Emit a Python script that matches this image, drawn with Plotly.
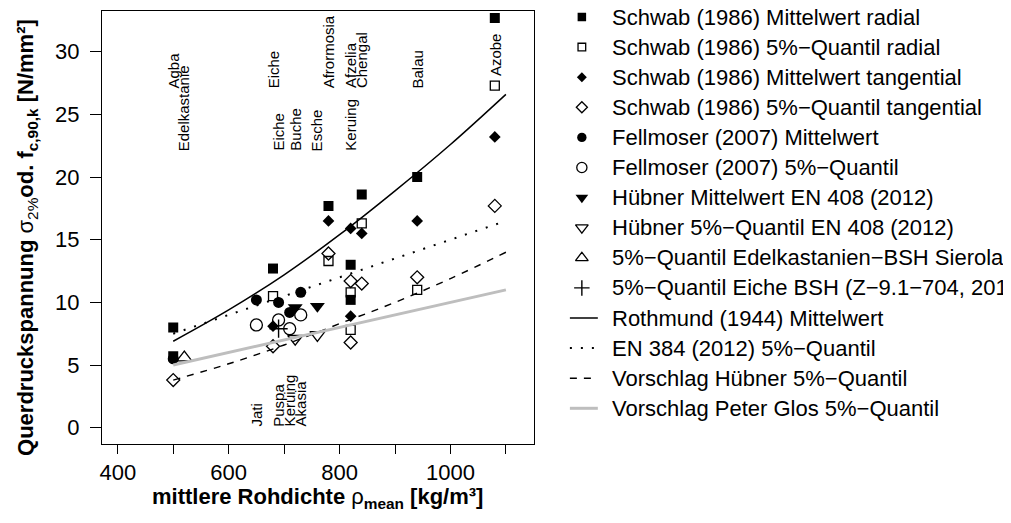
import plotly.graph_objects as go

# Schwab (1986) - radial / tangential, mean and 5% quantile
schwab_mw_rad_x = [500, 500, 680, 780, 820, 820, 840, 940, 1080]
schwab_mw_rad_y = [8.0, 5.7, 12.7, 17.7, 13.0, 10.2, 18.6, 20.0, 32.7]
schwab_q5_rad_x = [680, 780, 820, 820, 840, 940, 1080]
schwab_q5_rad_y = [10.5, 13.3, 10.8, 7.8, 16.3, 11.0, 27.3]
schwab_mw_tan_x = [680, 780, 820, 840, 820, 940, 1080]
schwab_mw_tan_y = [8.1, 16.5, 15.9, 15.5, 8.9, 16.5, 23.2]
schwab_q5_tan_x = [500, 680, 780, 820, 840, 820, 940, 1080]
schwab_q5_tan_y = [3.8, 6.5, 13.9, 11.7, 11.5, 6.8, 12.0, 17.7]

# Fellmoser (2007)
fellmoser_mw_x = [500, 650, 690, 710, 730]
fellmoser_mw_y = [5.5, 10.2, 10.0, 9.2, 10.8]
fellmoser_q5_x = [650, 690, 710, 730]
fellmoser_q5_y = [8.2, 8.6, 7.9, 9.0]

# Huebner EN 408 (2012)
huebner_mw_x = [720, 760]
huebner_mw_y = [9.6, 9.7]
huebner_q5_x = [720, 760]
huebner_q5_y = [7.1, 7.4]

# single values
edelkastanie_x = [520]
edelkastanie_y = [5.6]
eiche_bsh_x = [690]
eiche_bsh_y = [7.9]

# curves
rothmund_x = [500, 600, 700, 800, 900, 1000, 1100]
rothmund_y = [6.9, 9.4, 12.2, 15.4, 18.9, 22.6, 26.6]
en384_x = [500, 1100]
en384_y = [7.5, 16.5]
huebner_line_x = [500, 600, 700, 800, 900, 1000, 1100]
huebner_line_y = [3.8, 5.1, 6.6, 8.3, 10.0, 11.9, 14.0]
glos_x = [500, 1100]
glos_y = [5.0, 11.0]

# species names written into the plot (name, x, y)
names_top = ["Agba", "Eiche", "Afrormosia", "Afzelia", "Chengal", "Balau", "Azobe"]
names_top_x = [500, 680, 780, 820, 840, 940, 1080]
names_top_y = [27, 27, 27, 27, 27, 27, 28]
names_mid = ["Edelkastanie", "Eiche", "Buche", "Esche", "Keruing"]
names_mid_x = [520, 690, 720, 760, 820]
names_mid_y = [22, 22, 22, 22, 22]
names_low = ["Jati", "Puspa", "Keruing", "Akasia"]
names_low_x = [650, 690, 710, 730]
names_low_y = [0, 0, 0, 0]

y_ticks = [0, 5, 10, 15, 20, 25, 30]

# the page puts the plot 8 px from the top-left corner
OFF = 8
W, H = 1011 - OFF, 523 - OFF
BOX_L, BOX_R, BOX_T, BOX_B = 100 - OFF, 533 - OFF, 11 - OFF, 444 - OFF
FONT = "Liberation Sans, Arial, Helvetica, sans-serif"

# point styles (also used for the legend)
points = [
    ("Schwab (1986) Mittelwert radial", schwab_mw_rad_x, schwab_mw_rad_y,
     dict(symbol="square", size=10, color="black")),
    ("Schwab (1986) 5%−Quantil radial", schwab_q5_rad_x, schwab_q5_rad_y,
     dict(symbol="square-open", size=9, color="black", line=dict(width=1.3))),
    ("Schwab (1986) Mittelwert tangential", schwab_mw_tan_x, schwab_mw_tan_y,
     dict(symbol="diamond", size=9, color="black")),
    ("Schwab (1986) 5%−Quantil tangential", schwab_q5_tan_x, schwab_q5_tan_y,
     dict(symbol="diamond-open", size=10, color="black", line=dict(width=1.3))),
    ("Fellmoser (2007) Mittelwert", fellmoser_mw_x, fellmoser_mw_y,
     dict(symbol="circle", size=11, color="black")),
    ("Fellmoser (2007) 5%−Quantil", fellmoser_q5_x, fellmoser_q5_y,
     dict(symbol="circle-open", size=12, color="black", line=dict(width=1.3))),
    ("Hübner Mittelwert EN 408 (2012)", huebner_mw_x, huebner_mw_y,
     dict(symbol="triangle-down", size=13, color="black")),
    ("Hübner 5%−Quantil EN 408 (2012)", huebner_q5_x, huebner_q5_y,
     dict(symbol="triangle-down-open", size=13, color="black", line=dict(width=1.3))),
    ("5%−Quantil Edelkastanien−BSH Sierola", edelkastanie_x, edelkastanie_y,
     dict(symbol="triangle-up-open", size=13, color="black", line=dict(width=1.3))),
    ("5%−Quantil Eiche BSH (Z−9.1−704, 201", eiche_bsh_x, eiche_bsh_y,
     dict(symbol="cross-thin-open", size=13, color="black", line=dict(width=1.4))),
]

lines = [
    ("Rothmund (1944) Mittelwert", rothmund_x, rothmund_y,
     dict(color="black", width=1.5)),
    ("EN 384 (2012) 5%−Quantil", en384_x, en384_y,
     dict(color="black", width=2, dash="2px,9px")),
    ("Vorschlag Hübner 5%−Quantil", huebner_line_x, huebner_line_y,
     dict(color="black", width=1.4, dash="7px,7px")),
    ("Vorschlag Peter Glos 5%−Quantil", glos_x, glos_y,
     dict(color="#bebebe", width=3)),
]

fig = go.Figure()

for name, xs, ys, mk in points:
    fig.add_trace(go.Scatter(x=xs, y=ys, mode="markers", name=name,
                             marker=mk, showlegend=False))

for name, xs, ys, ln in lines:
    fig.add_trace(go.Scatter(x=xs, y=ys, mode="lines", name=name,
                             line=dict(shape="spline", **ln), showlegend=False))

annotations = []

# rotated species labels
for names, xs, ys in [(names_top, names_top_x, names_top_y),
                      (names_mid, names_mid_x, names_mid_y),
                      (names_low, names_low_x, names_low_y)]:
    for n, xv, yv in zip(names, xs, ys):
        annotations.append(dict(x=xv, y=yv, xref="x", yref="y", text=n,
                                textangle=-90, xanchor="center", yanchor="bottom",
                                showarrow=False, borderpad=0,
                                font=dict(size=15, color="black", family=FONT)))

# hand-made legend on a pixel-scaled helper axis
LEG_SYM_X = 581 - OFF
LEG_TXT_X = 609 - OFF
LEG_Y0 = 17 - OFF
LEG_DY = 30.1
entries = [(n, "m", s) for n, _, _, s in points] + [(n, "l", s) for n, _, _, s in lines]
for i, (name, kind, style) in enumerate(entries):
    yy = LEG_Y0 + i * LEG_DY
    if kind == "m":
        mk = dict(style)
        mk["size"] = style["size"] * 0.85
        fig.add_trace(go.Scatter(x=[LEG_SYM_X], y=[yy], mode="markers", marker=mk,
                                 xaxis="x2", yaxis="y2", showlegend=False,
                                 hoverinfo="skip"))
    else:
        fig.add_trace(go.Scatter(x=[LEG_SYM_X - 12, LEG_SYM_X + 16], y=[yy, yy],
                                 mode="lines", line=style,
                                 xaxis="x2", yaxis="y2", showlegend=False,
                                 hoverinfo="skip"))
    annotations.append(dict(x=LEG_TXT_X, y=yy, xref="x2", yref="y2", text=name,
                            xanchor="left", yanchor="middle", showarrow=False,
                            font=dict(size=22, color="black", family=FONT)))

# axis titles
annotations.append(dict(
    x=(BOX_L + BOX_R) / 2, y=498 - OFF, xref="x2", yref="y2", showarrow=False,
    text="<b>mittlere Rohdichte </b>ρ<b><sub>mean</sub> [kg/m³]</b>",
    font=dict(size=22, color="black", family=FONT)))
annotations.append(dict(
    x=25 - OFF, y=237 - OFF, xref="x2", yref="y2", showarrow=False, textangle=-90,
    text="<b>Querdruckspannung </b>σ<sub>2%</sub><b>od. f<sub>c,90,k</sub> [N/mm²]</b>",
    font=dict(size=22, color="black", family=FONT)))

axis_common = dict(showline=True, mirror=True, linecolor="black", linewidth=1,
                   ticks="outside", tickwidth=1, tickcolor="black",
                   showgrid=False, zeroline=False,
                   tickfont=dict(size=22, color="black", family=FONT))

fig.update_layout(
    width=W, height=H,
    margin=dict(l=0, r=0, t=0, b=0),
    paper_bgcolor="white",
    plot_bgcolor="rgba(0,0,0,0)",
    font=dict(family=FONT, color="black"),
    showlegend=False,
    xaxis=dict(domain=[BOX_L / W, BOX_R / W], range=[371.2, 1150.6],
               tick0=400, dtick=200, ticklen=9, ticklabelstandoff=0,
               minor=dict(tick0=400, dtick=100, ticks="outside", ticklen=9,
                          tickwidth=1, tickcolor="black", showgrid=False),
               **axis_common),
    yaxis=dict(domain=[1 - BOX_B / H, 1 - BOX_T / H], range=[-1.3, 33.25],
               tickvals=y_ticks, ticklen=11, ticklabelstandoff=6, **axis_common),
    xaxis2=dict(domain=[0, 1], range=[0, W], anchor="y2", visible=False,
                fixedrange=True),
    yaxis2=dict(domain=[0, 1], range=[H, 0], anchor="x2", visible=False,
                fixedrange=True),
    annotations=annotations,
)

fig.write_html("out.html")
